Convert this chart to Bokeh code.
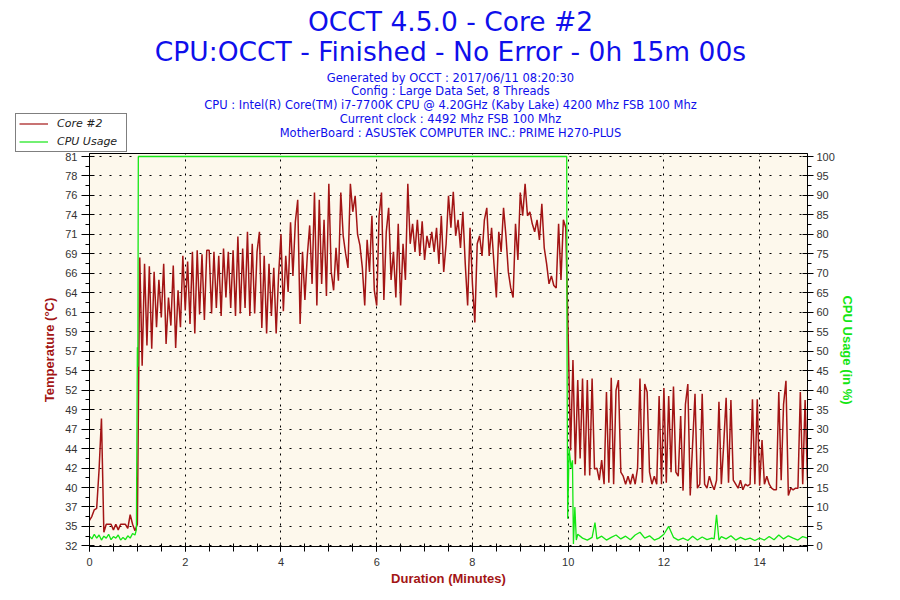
from bokeh.plotting import figure
from bokeh.layouts import column, row
from bokeh.models import Range1d, LinearAxis, FixedTicker, Label, Legend, LegendItem
from bokeh.embed import file_html
from bokeh.resources import INLINE

# ---------------- data ----------------
TITLE = "OCCT 4.5.0 - Core #2"
SUBTITLE = "CPU:OCCT - Finished - No Error - 0h 15m 00s"
INFO_LINES = [
    "Generated by OCCT : 2017/06/11 08:20:30",
    "Config : Large Data Set, 8 Threads",
    "CPU : Intel(R) Core(TM) i7-7700K CPU @ 4.20GHz (Kaby Lake) 4200 Mhz FSB 100 Mhz",
    "Current clock : 4492 Mhz FSB 100 Mhz",
    "MotherBoard : ASUSTeK COMPUTER INC.: PRIME H270-PLUS",
]
SERIES_NAMES = ["Core #2", "CPU Usage"]

SAMPLE_MINUTES = 0.05  # one reading every 3 s

core2_temp = [
    35.5, 36.0, 36.8, 37.0, 41.8, 48.2, 34.0, 35.0, 35.0, 35.0,
    34.3, 35.0, 34.3, 35.0, 35.0, 35.0, 34.5, 36.2, 35.0, 34.2,
    35.0, 68.3, 54.8, 67.5, 57.3, 67.2, 56.9, 66.5, 59.6, 65.5,
    60.8, 67.5, 57.5, 63.3, 59.8, 67.3, 57.0, 64.2, 59.6, 68.5,
    61.7, 67.8, 60.0, 69.0, 58.8, 69.2, 61.2, 68.7, 60.5, 69.2,
    69.2, 61.3, 69.0, 62.0, 68.5, 61.0, 69.4, 63.3, 69.0, 62.0,
    69.2, 61.0, 70.9, 61.3, 69.4, 62.0, 71.5, 61.0, 70.0, 61.3,
    69.0, 71.5, 59.5, 68.5, 58.8, 67.5, 61.0, 67.0, 58.8, 66.0,
    71.2, 61.6, 68.5, 64.0, 72.7, 66.0, 72.7, 75.5, 60.0, 69.0,
    63.0, 68.5, 72.3, 65.0, 76.4, 62.3, 75.5, 65.0, 73.0, 63.5,
    77.5, 66.5, 64.2, 69.5, 65.4, 76.4, 71.0, 68.8, 67.0, 77.5,
    74.0, 76.0, 71.2, 69.8, 67.0, 62.3, 70.5, 66.5, 73.5, 64.2,
    62.3, 73.5, 76.4, 63.0, 71.5, 74.5, 65.5, 69.0, 63.3, 72.5,
    62.3, 70.0, 65.5, 77.5, 70.0, 72.5, 69.0, 73.0, 68.5, 72.8,
    68.0, 71.0, 69.5, 71.5, 69.0, 72.0, 67.5, 73.5, 66.5, 70.0,
    76.0, 72.0, 76.5, 71.0, 73.0, 69.5, 74.0, 67.5, 62.3, 72.0,
    65.0, 60.2, 70.0, 71.0, 68.5, 73.0, 74.5, 68.5, 72.0, 67.5,
    63.3, 71.5, 69.0, 74.5, 71.0, 66.5, 64.5, 63.3, 72.5, 68.0,
    76.4, 73.5, 77.5, 73.5, 74.0, 72.5, 71.5, 73.0, 70.5, 75.0,
    69.5, 67.5, 65.0, 66.0, 64.8, 64.5, 72.5, 65.5, 73.0, 72.0,
    58.6, 44.2, 55.5, 42.5, 53.0, 43.2, 53.2, 41.1, 53.0, 41.1,
    53.2, 41.9, 42.0, 40.5, 43.0, 40.0, 51.5, 40.2, 53.3, 40.0,
    51.7, 53.0, 41.5, 41.0, 40.0, 41.0, 40.0, 41.3, 40.0, 42.0,
    53.2, 40.2, 52.5, 51.5, 41.5, 40.0, 41.0, 40.0, 51.0, 40.0,
    52.0, 40.2, 51.0, 41.5, 52.2, 41.5, 41.0, 48.5, 39.2, 50.0,
    52.5, 38.6, 45.0, 51.3, 39.5, 40.0, 51.3, 40.0, 39.5, 41.0,
    40.0, 39.3, 40.5, 50.3, 40.0, 45.0, 50.8, 40.2, 50.5, 40.5,
    40.0, 39.5, 40.5, 39.3, 40.0, 39.8, 40.0, 50.6, 40.0, 50.6,
    39.8, 45.5, 40.0, 41.0, 40.0, 39.5, 39.3, 39.3, 51.5, 40.5,
    50.0, 52.9, 38.6, 39.5, 39.3, 39.5, 39.5, 51.5, 40.0, 50.5,
    40.5,
]

cpu_minutes = [
    0.00, 0.05, 0.10, 0.15, 0.20, 0.25, 0.30, 0.35, 0.40, 0.45,
    0.50, 0.55, 0.60, 0.65, 0.70, 0.75, 0.80, 0.85, 0.90, 0.95,
    0.98, 1.00, 1.01, 1.02, 9.97, 9.975, 9.99, 10.02, 10.06, 10.09,
    10.11, 10.14, 10.17, 10.20, 10.30, 10.40, 10.50, 10.56, 10.60, 10.70,
    10.80, 10.90, 11.00, 11.10, 11.20, 11.30, 11.40, 11.50, 11.60, 11.70,
    11.80, 11.90, 12.00, 12.10, 12.20, 12.30, 12.40, 12.50, 12.60, 12.70,
    12.80, 12.90, 13.00, 13.05, 13.10, 13.15, 13.20, 13.30, 13.40, 13.50,
    13.60, 13.70, 13.80, 13.90, 14.00, 14.10, 14.20, 14.30, 14.40, 14.50,
    14.60, 14.70, 14.80, 14.90, 15.00,
]
cpu_usage = [
    2.5, 1.8, 3.0, 2.0, 2.8, 1.5, 2.5, 2.0, 3.0, 1.6,
    2.4, 2.0, 2.8, 1.5, 2.2, 1.6, 2.6, 2.0, 3.2, 2.8,
    4.2, 51.0, 46.0, 100.0, 100.0, 54.0, 7.0, 25.0, 20.0, 22.0,
    0.5, 10.0, 1.5, 3.0, 2.0, 1.5, 2.2, 6.0, 1.8, 2.5,
    1.5, 2.2, 2.8, 1.8, 2.5, 1.6, 2.8, 3.5, 2.0, 2.6,
    1.5, 2.0, 3.0, 5.0, 2.2, 1.5, 2.0, 1.4, 2.5, 1.5,
    2.3, 1.6, 2.0, 1.8, 8.0, 1.5, 2.4, 1.8, 2.6, 1.5,
    2.2, 1.6, 2.0, 1.4, 2.0, 1.5, 2.4, 1.6, 2.8, 1.8,
    2.6, 2.0, 1.5, 2.4, 2.0,
]

x_tick_values = [0, 2, 4, 6, 8, 10, 12, 14]
cpu_tick_values = [0, 5, 10, 15, 20, 25, 30, 35, 40, 45, 50,
                   55, 60, 65, 70, 75, 80, 85, 90, 95, 100]
temp_tick_labels = ["32", "35", "37", "40", "42", "44", "47", "49", "52", "54", "57",
                    "59", "61", "64", "66", "69", "71", "74", "76", "78", "81"]
TEMP_AT_CPU0, TEMP_AT_CPU100 = 32.3, 80.9   # left scale is tied to the right scale

# ---------------- style ----------------
DARK_RED = "#A31515"
GREEN = "#14E614"
BLUE = "#0F0FEB"
TICK_FONT = "Liberation Sans"
HEAD_FONT = "DejaVu Sans"

W = 900
HEADER_H = 152
MAIN_H = 600 - HEADER_H

# ---------------- header (titles + legend) ----------------
head = figure(width=W, height=HEADER_H, output_backend="svg", toolbar_location=None, tools="",
              title=None, x_range=Range1d(0, W), y_range=Range1d(HEADER_H, 0),
              x_axis_location=None, y_axis_location=None, min_border=0,
              outline_line_color=None, background_fill_color="white", border_fill_color="white")
head.xgrid.visible = False
head.ygrid.visible = False

def add_text(text, x, y, size):
    head.add_layout(Label(x=x, y=y, text=text, text_align="center", text_baseline="middle",
                          text_font=HEAD_FONT, text_font_size=size, text_color=BLUE))

add_text(TITLE, 450, 21, "26.5px")
add_text(SUBTITLE, 450, 51, "26.5px")
for i, line in enumerate(INFO_LINES):
    add_text(line, 450, 77 + i * 13.8, "11.5px")

# legend proxies (a single NaN point each, never drawn) so the legend can sit outside the plot frame
NAN = float("nan")
proxy_temp = head.line(x=[NAN], y=[NAN], line_color=DARK_RED, line_width=1.2)
proxy_cpu = head.line(x=[NAN], y=[NAN], line_color=GREEN, line_width=1.2)
legend = Legend(items=[LegendItem(label=SERIES_NAMES[0], renderers=[proxy_temp]),
                       LegendItem(label=SERIES_NAMES[1], renderers=[proxy_cpu])],
                location=(15, 0.5))
legend.border_line_color = "black"
legend.border_line_width = 1
legend.background_fill_color = "white"
legend.background_fill_alpha = 1.0
legend.label_text_font = HEAD_FONT
legend.label_text_font_style = "italic"
legend.label_text_font_size = "11px"
legend.label_text_color = "#222222"
legend.glyph_width = 29
legend.glyph_height = 13
legend.label_height = 13
legend.label_width = 66
legend.label_standoff = 9
legend.padding = 3
legend.spacing = 5
legend.margin = 0
head.add_layout(legend, "center")

# ---------------- main chart ----------------
CPU_LO, CPU_HI = -0.15, 100.77
def cpu_to_temp(c):
    return TEMP_AT_CPU0 + c * (TEMP_AT_CPU100 - TEMP_AT_CPU0) / 100.0

temp_minutes = [i * SAMPLE_MINUTES for i in range(len(core2_temp))]

p = figure(width=W, height=MAIN_H, output_backend="svg", toolbar_location=None, tools="",
           title=None, x_range=Range1d(0, 15),
           y_range=Range1d(cpu_to_temp(CPU_LO), cpu_to_temp(CPU_HI)),
           min_border_left=89, min_border_right=93, min_border_top=1, min_border_bottom=54,
           background_fill_color="#FDF8EC", border_fill_color="white")
p.extra_y_ranges = {"cpu": Range1d(CPU_LO, CPU_HI)}
p.outline_line_color = "black"
p.outline_line_width = 1

# left axis (temperature), ticks aligned with the CPU ticks
temp_ticks = [round(cpu_to_temp(c), 4) for c in cpu_tick_values]
temp_minor = [round(cpu_to_temp(c + 2.5), 4) for c in cpu_tick_values[:-1]]
ya = p.yaxis[0]
ya.ticker = FixedTicker(ticks=temp_ticks, minor_ticks=temp_minor)
ya.major_label_overrides = {t: lab for t, lab in zip(temp_ticks, temp_tick_labels)}
ya.axis_label = "Temperature (°C)"
ya.axis_label_text_color = DARK_RED
ya.axis_label_text_font = "Liberation Sans"
ya.axis_label_text_font_style = "bold"
ya.axis_label_text_font_size = "13px"
ya.axis_label_standoff = 5
ya.major_label_text_font = TICK_FONT
ya.major_label_text_font_size = "11px"
ya.major_label_text_color = "#333333"
ya.major_label_standoff = 4
ya.major_tick_out = 8
ya.major_tick_in = 5
ya.minor_tick_out = 4
ya.minor_tick_in = 0
ya.axis_line_color = "black"
ya.major_tick_line_color = "black"
ya.minor_tick_line_color = "black"

# bottom axis
xa = p.xaxis[0]
xa.ticker = FixedTicker(ticks=x_tick_values, minor_ticks=[k * 0.5 for k in range(31)])
xa.axis_label = "Duration (Minutes)"
xa.axis_label_text_color = DARK_RED
xa.axis_label_text_font = "Liberation Sans"
xa.axis_label_text_font_style = "bold"
xa.axis_label_text_font_size = "13px"
xa.axis_label_standoff = 2
xa.major_label_text_font = TICK_FONT
xa.major_label_text_font_size = "11px"
xa.major_label_text_color = "#333333"
xa.major_label_standoff = 6
xa.major_tick_out = 5
xa.major_tick_in = 4
xa.minor_tick_out = 5
xa.minor_tick_in = 3
xa.axis_line_color = "black"
xa.major_tick_line_color = "black"
xa.minor_tick_line_color = "black"

# right axis (CPU usage)
ra = LinearAxis(y_range_name="cpu",
                ticker=FixedTicker(ticks=cpu_tick_values,
                                   minor_ticks=[c + 2.5 for c in cpu_tick_values[:-1]]))
ra.axis_label = "CPU Usage (in %)"
ra.axis_label_text_color = GREEN
ra.axis_label_text_font = "Liberation Sans"
ra.axis_label_text_font_style = "bold"
ra.axis_label_text_font_size = "13px"
ra.axis_label_standoff = 2
ra.major_label_text_font = TICK_FONT
ra.major_label_text_font_size = "11px"
ra.major_label_text_color = "#333333"
ra.major_label_standoff = 3
ra.major_tick_out = 6
ra.major_tick_in = 5
ra.minor_tick_out = 4
ra.minor_tick_in = 0
ra.axis_line_color = "black"
p.add_layout(ra, "right")

# grids
p.xgrid.ticker = FixedTicker(ticks=x_tick_values)
p.xgrid.grid_line_color = "black"
p.xgrid.grid_line_dash = "2 5"
p.xgrid.grid_line_width = 1
p.ygrid.grid_line_color = "black"
p.ygrid.grid_line_dash = "2 8"
p.ygrid.grid_line_width = 1

# series
p.line(temp_minutes, core2_temp, line_color=DARK_RED, line_width=1.5)
p.line(cpu_minutes, cpu_usage, y_range_name="cpu", line_color=GREEN, line_width=1.3)

layout = column(row(head), p, spacing=0)
open("out.html", "w").write(file_html(layout, INLINE))
